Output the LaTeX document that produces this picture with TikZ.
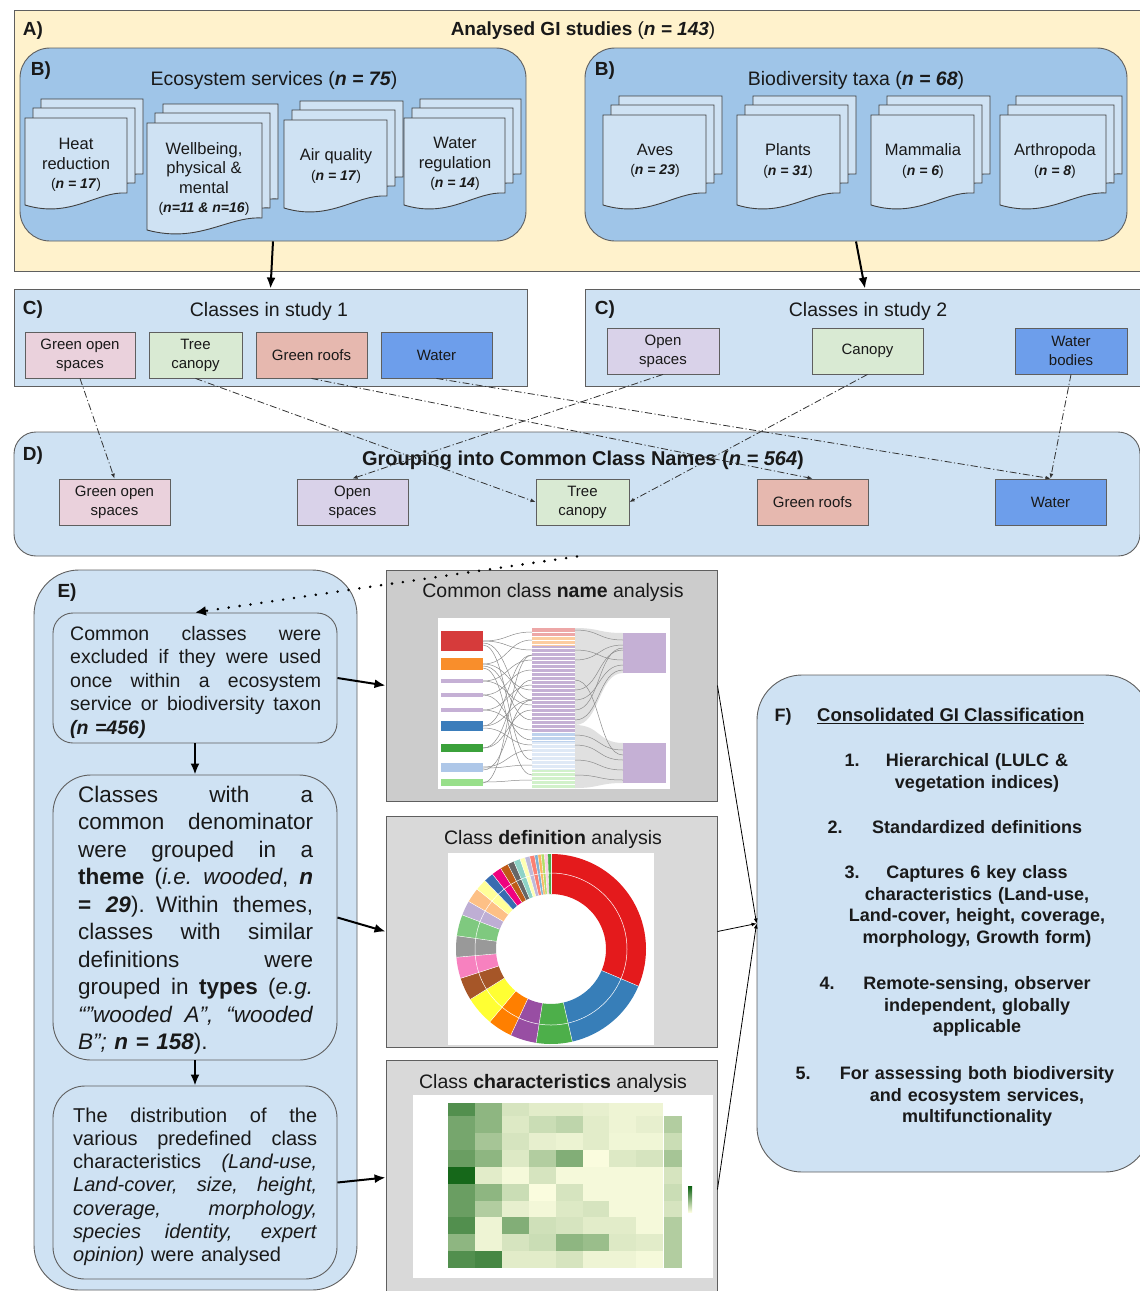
\documentclass[tikz,border=0pt]{standalone}
\usepackage{fontspec}
\setmainfont{Liberation Sans}
\usepackage{tikz}
\usetikzlibrary{arrows.meta,calc,positioning}

\definecolor{giyellow}{HTML}{FFF2CC}
\definecolor{giblue}{HTML}{9FC5E8}
\definecolor{gilight}{HTML}{CFE2F3}
\definecolor{gipink}{HTML}{EAD1DC}
\definecolor{gitree}{HTML}{D9EAD3}
\definecolor{giroof}{HTML}{E6B8AF}
\definecolor{giwater}{HTML}{6D9EEB}
\definecolor{giopen}{HTML}{D9D2E9}
\definecolor{gigreyA}{HTML}{CCCCCC}
\definecolor{gigreyB}{HTML}{D9D9D9}
\definecolor{giedge}{HTML}{5F5F5F}
\definecolor{hmhigh}{RGB}{10,96,16}
\definecolor{hmlow}{RGB}{250,252,222}
% sankey colours
\definecolor{skred}{HTML}{D63B3B}
\definecolor{skorange}{HTML}{F98E2B}
\definecolor{skpurple}{HTML}{C5B0D5}
\definecolor{skblue}{HTML}{3B7DBB}
\definecolor{skgreen}{HTML}{3BA13B}
\definecolor{sklblue}{HTML}{AEC7E8}
\definecolor{sklgreen}{HTML}{98DF8A}

\newcommand{\gifont}[2]{\fontsize{#1}{#2}\selectfont}
\newcommand{\nval}[1]{(\textbf{\textit{n = #1}})}
\newcommand{\jwid}{250pt}
% one justified line of fixed width \jwid
\newcommand{\jline}[1]{\hbox to \jwid{\spaceskip=0.3em plus 1fil\relax#1}\par}
% one sheet with a wavy lower edge: x, y (top left), width, height
\newcommand{\gisheet}[4]{%
  \filldraw[docsheet] ({#1},{#2}) -- ({#1+#3},{#2}) -- ({#1+#3},{#2+#4-12})
    .. controls ({#1+0.7*#3},{#2+#4-14}) and ({#1+0.45*#3},{#2+#4+14}) .. ({#1},{#2+#4}) -- cycle;}
% three stacked sheets
\newcommand{\gistack}[4]{%
  \gisheet{#1+16}{#2-19}{#3}{#4}%
  \gisheet{#1+8}{#2-10}{#3}{#4}%
  \gisheet{#1}{#2}{#3}{#4}}

\begin{document}
\begin{tikzpicture}
[
	x = 1pt, y = -1pt,	% one unit per pixel, y runs downwards
	every node/.style = {inner sep=0pt, text=black!90},
	seclabel/.style = {font=\gifont{19}{23}\bfseries},
	sectitle/.style = {font=\gifont{19.5}{23}},
	gibox/.style = {draw=giedge, line width=0.9pt},
	docsheet/.style = {draw=black!75, line width=0.9pt, fill=gilight},
	doctext/.style = {font=\gifont{16.5}{19.5}, align=center},
	classbox/.style = {gibox, font=\gifont{15}{19}, align=center, minimum height=46pt},
	etext/.style = {anchor=base west, font=\gifont{19.5}{23.5}},
	fitem/.style = {anchor=base, align=center, text width=300pt, font=\gifont{18}{21.5}\bfseries},
	fnum/.style = {anchor=base, font=\gifont{18}{21.5}\bfseries},
	bigarrow/.style = {line width=2pt, -{Latex[length=11pt,width=9pt]}},
	dashlink/.style = {draw=black!80, line width=0.8pt, dash pattern=on 7pt off 2.5pt on 1.2pt off 2.5pt, -{Latex[length=5pt,width=4pt]}},
	dotlink/.style = {line width=2.8pt, line cap=round, dash pattern=on 0pt off 11pt, -{Latex[length=11pt,width=10pt]}},
	thinlink/.style = {line width=0.8pt, -{Latex[length=5pt,width=4pt]}},
]

\useasboundingbox (0,0) rectangle (1140,1291);
\clip (0,0) rectangle (1140,1291);

% A) analysed studies
\node[gibox, fill=giyellow, minimum width=1131pt, minimum height=261pt] (astudies) at (579.5,140.5) {};
\node[seclabel] (alab) at (33,31) {A)};
\node[font=\gifont{19}{23}] (atitle) at (583,31) {\textbf{Analysed GI studies} (\textbf{\textit{n = 143}})};

% B) ecosystem services and biodiversity taxa
\node[gibox, fill=giblue, rounded corners=30pt, minimum width=506pt, minimum height=193pt] (bes) at (273,144.5) {};
\node[gibox, fill=giblue, rounded corners=30pt, minimum width=542pt, minimum height=193pt] (bbio) at (856,144.5) {};
\node[seclabel] (blabes) at (41,71) {B)};
\node[seclabel] (blabbio) at (605,71) {B)};
\node[sectitle] (bestitle) at (274,80) {Ecosystem services \nval{75}};
\node[sectitle] (bbiotitle) at (856,80) {Biodiversity taxa \nval{68}};

\gistack{25}{118}{102}{87}
\gistack{147}{123}{115}{107}
\gistack{284}{120}{103}{88}
\gistack{404}{118}{101}{87}
\gistack{603}{115}{103}{90}
\gistack{737}{115}{103}{90}
\gistack{871}{115}{103}{90}
\gistack{1000}{115}{106}{90}

\node[doctext] (dheat) at (76,165) {Heat\\reduction\\{\gifont{14}{17}\nval{17}}};
\node[doctext] (dwell) at (204,179) {Wellbeing,\\physical \&\\mental\\{\gifont{14}{17}(\textbf{\textit{n=11 \& n=16}})}};
\node[doctext] (dair) at (336,166) {Air quality\\{\gifont{14}{17}\nval{17}}};
\node[doctext] (dwreg) at (455,164) {Water\\regulation\\{\gifont{14}{17}\nval{14}}};
\node[doctext] (daves) at (655,161) {Aves\\{\gifont{14}{17}\nval{23}}};
\node[doctext] (dplants) at (788,161) {Plants\\{\gifont{14}{17}\nval{31}}};
\node[doctext] (dmamm) at (923,161) {Mammalia\\{\gifont{14}{17}\nval{6}}};
\node[doctext] (darth) at (1055,161) {Arthropoda\\{\gifont{14}{17}\nval{8}}};

% C) classes in the two studies
\node[gibox, fill=gilight, minimum width=513pt, minimum height=97pt] (cone) at (270.5,337.5) {};
\node[gibox, fill=gilight, minimum width=560pt, minimum height=97pt] (ctwo) at (865,337.5) {};
\node[seclabel] (clabone) at (33,310) {C)};
\node[seclabel] (clabtwo) at (605,310) {C)};
\node[sectitle] (conetitle) at (269,311) {Classes in study 1};
\node[sectitle] (ctwotitle) at (868,311) {Classes in study 2};

\node[classbox, fill=gipink, minimum width=110pt] (c1open) at (80,355) {Green open\\spaces};
\node[classbox, fill=gitree, minimum width=93pt] (c1tree) at (195.5,355) {Tree\\canopy};
\node[classbox, fill=giroof, minimum width=111pt] (c1roof) at (311.5,355) {Green roofs};
\node[classbox, fill=giwater, minimum width=111pt] (c1water) at (436.5,355) {Water};
\node[classbox, fill=giopen, minimum width=112pt] (c2open) at (663,351) {Open\\spaces};
\node[classbox, fill=gitree, minimum width=111pt] (c2canopy) at (867.5,351) {Canopy};
\node[classbox, fill=giwater, minimum width=112pt] (c2water) at (1071,351) {Water\\bodies};

% D) common class names
\node[gibox, fill=gilight, rounded corners=22pt, minimum width=1126pt, minimum height=124pt] (dall) at (577,494) {};
\node[seclabel] (dlab) at (33,456) {D)};
\node[font=\gifont{20}{24}\bfseries] (dtitle) at (583,460) {Grouping into Common Class Names (\textit{n = 564})};

\node[classbox, fill=gipink, minimum width=111pt] (dgreen) at (114.5,502) {Green open\\spaces};
\node[classbox, fill=giopen, minimum width=111pt] (dopen) at (352.5,502) {Open\\spaces};
\node[classbox, fill=gitree, minimum width=93pt] (dtree) at (582.5,502) {Tree\\canopy};
\node[classbox, fill=giroof, minimum width=111pt] (droof) at (812.5,502) {Green roofs};
\node[classbox, fill=giwater, minimum width=111pt] (dwater) at (1050.5,502) {Water};

\draw[dashlink] (c1open.south) -- (dgreen.north);
\draw[dashlink] (c1tree.south) -- (dtree.west);
\draw[dashlink] (c1roof.south) -- (droof.north);
\draw[dashlink] (c1water.south) -- (dwater.north);
\draw[dashlink] (c2open.south) -- (dopen.north);
\draw[dashlink] (c2canopy.south) -- (dtree.east);
\draw[dashlink] (c2water.south) -- (dwater.north);

% E) filtering steps
\node[gibox, fill=gilight, rounded corners=45pt, minimum width=323pt, minimum height=720pt] (eall) at (195.5,930) {};
\node[seclabel] (elab) at (67,593) {E)};
\node[gibox, fill=gilight, rounded corners=20pt, minimum width=284pt, minimum height=130pt] (eone) at (195,678) {};
\node[gibox, fill=gilight, rounded corners=38pt, minimum width=284pt, minimum height=285pt] (etwo) at (195,917.5) {};
\node[gibox, fill=gilight, rounded corners=32pt, minimum width=284pt, minimum height=193pt] (ethree) at (195,1182.5) {};

\node[etext, text width=251pt] (eonetext) at (70,640) {%
  \renewcommand{\jwid}{251pt}%
  \jline{Common classes were}%
  \jline{excluded if they were used}%
  \jline{once within a ecosystem}%
  \jline{service or biodiversity taxon}%
  \hbox{\textbf{\textit{(n =456)}}}};
\node[etext, font=\gifont{22.5}{27.5}, text width=235pt] (etwotext) at (78,802) {%
  \renewcommand{\jwid}{235pt}%
  \jline{Classes with a}%
  \jline{common denominator}%
  \jline{were grouped in a}%
  \jline{\textbf{theme} (\textit{i.e. wooded}, \textbf{\textit{n}}}%
  \jline{\textbf{=} \textbf{\textit{29}}). Within themes,}%
  \jline{classes with similar}%
  \jline{definitions were}%
  \jline{grouped in \textbf{types} (\textit{e.g.}}%
  \jline{\textit{“”wooded A”, “wooded}}%
  \hbox{\textit{B”;} \textbf{\textit{n = 158}}).}};
\node[etext, font=\gifont{20}{23.3}, text width=244pt] (ethreetext) at (73,1122) {%
  \renewcommand{\jwid}{244pt}%
  \jline{The distribution of the}%
  \jline{various predefined class}%
  \jline{characteristics \textit{(Land-use,}}%
  \jline{\textit{Land-cover, size, height,}}%
  \jline{\textit{coverage, morphology,}}%
  \jline{\textit{species identity, expert}}%
  \hbox{\textit{opinion)} were analysed}};

% analysis panels
\node[gibox, fill=gigreyA, minimum width=331pt, minimum height=231pt] (pone) at (551.5,685.5) {};
\node[gibox, fill=gigreyB, minimum width=331pt, minimum height=231pt] (ptwo) at (551.5,931.5) {};
\node[gibox, fill=gigreyB, minimum width=331pt, minimum height=235pt] (pthree) at (551.5,1177.5) {};
\node[sectitle] (ponetitle) at (553,592) {Common class \textbf{name} analysis};
\node[sectitle] (ptwotitle) at (553,839) {Class \textbf{definition} analysis};
\node[sectitle] (pthreetitle) at (553,1083) {Class \textbf{characteristics} analysis};

% sankey sketch
\fill[white] (438,618) rectangle (670,789);
\foreach \ya/\yb/\col in {631/651/skred, 658/670/skorange, 679/683/skpurple, 693/697/skpurple, 708/712/skpurple, 721/731/skblue, 744/752/skgreen, 763/772/sklblue, 779/786/sklgreen}
  \fill[\col] (441,\ya) rectangle (483,\yb);
\fill[skred!45] (532,628) rectangle (575,637);
\fill[skorange!45] (532,637) rectangle (575,646);
\fill[skpurple] (532,646) rectangle (575,733);
\fill[sklblue!80] (532,733) rectangle (575,742);
\fill[sklblue!40] (532,742) rectangle (575,770);
\fill[sklgreen!45] (532,770) rectangle (575,788);
\foreach \y in {632,636,...,786}
  \draw[white, line width=0.5pt] (532,\y) -- (575,\y);
\fill[black!12] (575,628) .. controls (600,628) and (598,633) .. (623,633) -- (623,673) .. controls (598,673) and (600,725) .. (575,725) -- cycle;
\fill[black!12] (575,725) .. controls (600,725) and (598,743) .. (623,743) -- (623,783) .. controls (598,783) and (600,788) .. (575,788) -- cycle;
\fill[skpurple] (623,633) rectangle (666,673);
\fill[skpurple] (623,743) rectangle (666,783);
\foreach \a/\b in {641/632, 641/650, 643/700, 645/760, 664/640, 664/690, 666/720, 668/775, 681/660, 681/705, 695/670, 695/740, 710/685, 710/730, 726/655, 726/700, 728/745, 748/710, 748/680, 767/750, 768/765, 770/700, 782/780, 783/655}
  \draw[black!45, line width=0.5pt] (483,\a) .. controls (508,\a) and (508,\b) .. (532,\b);
\foreach \b/\c in {630/640, 650/660, 660/645, 690/650, 700/665, 720/670, 735/750, 745/760, 760/770, 775/780, 680/755, 710/648}
  \draw[black!45, line width=0.5pt] (575,\b) .. controls (600,\b) and (598,\c) .. (623,\c);

% donut sketch
\fill[white] (448,853) rectangle (654,1045);
\begin{scope}[shift={(551,949)}]
\foreach \sa/\sb/\col in {0/113/E41A1C, 113/167/377EB8, 167/189/4DAF4A, 189/205/984EA3, 205/220/FF7F00, 220/238/FFFF33, 238/252/A65628, 252/265/F781BF, 265/278/999999, 278/291/7FC97F, 291/300/BEAED4, 300/309/FDC086, 309/316/FFFF99, 316/322/386CB0, 322/328/F0027F, 328/333/BF5B17, 333/337/666666, 337/341/8DD3C7, 341/344/FFFFB3, 344/347/BEBADA, 347/350/FB8072, 350/352/80B1D3, 352/354/FDB462, 354/356/B3DE69, 356/358/FCCDE5, 358/360/4DAF4A}
{
  \definecolor{dn}{HTML}{\col}
  \pgfmathsetmacro\aa{90-\sa}
  \pgfmathsetmacro\ab{90-\sb}
  \fill[dn] (\aa:95pt) arc[start angle=\aa, end angle=\ab, radius=95pt] -- (\ab:55pt) arc[start angle=\ab, end angle=\aa, radius=55pt] -- cycle;
  \draw[white, line width=0.4pt] (\aa:55pt) -- (\aa:95pt);
}
\draw[white, line width=0.5pt] (0,0) circle[radius=76pt];
\end{scope}

% heat map sketch
\fill[white] (413,1095) rectangle (713,1278);
\foreach \v [count=\c from 0] in {70,45,15,10,10,8,5,5}
  \fill[hmhigh!\v!hmlow] ({448+26.9*\c},1103) rectangle ++(26.9,13);
\foreach \vals [count=\r from 0] in {{55,45,12,20,25,10,5,8}, {55,35,15,8,6,10,4,4}, {60,45,12,30,50,0,12,15}, {95,10,2,15,2,2,2,2}, {60,45,20,0,15,2,2,2}, {60,30,8,3,12,15,2,2}, {70,5,50,18,15,10,10,2}, {45,5,15,20,45,40,12,10}, {70,75,10,10,15,5,5,2}}
  \foreach \v [count=\c from 0] in \vals
    \fill[hmhigh!\v!hmlow] ({448+26.9*\c},{1116+16.9*\r}) rectangle ++(26.9,16.9);
\foreach \v [count=\r from 0] in {30,20,35,15,20,15,30,30,30}
  \fill[hmhigh!\v!hmlow] (664,{1116+16.9*\r}) rectangle ++(18,16.9);
\shade[top color=hmhigh, bottom color=hmlow] (688,1186) rectangle (692,1212);

% F) consolidated classification
\node[gibox, fill=gilight, rounded corners=45pt, minimum width=393pt, minimum height=497pt] (fall) at (953.5,923.5) {};
\node[fnum] (flab) at (783,721.5) {F)};
\node[anchor=base west, font=\gifont{18.5}{22}\bfseries] (ftitle) at (817,721.5) {\underline{Consolidated GI Classification}};
\node[fnum] (fnumone) at (852,766.5) {1.};
\node[fitem] (fone) at (977,766.5) {Hierarchical (LULC \&\\vegetation indices)};
\node[fnum] (fnumtwo) at (835,833.5) {2.};
\node[fitem] (ftwo) at (977,833.5) {Standardized definitions};
\node[fnum] (fnumthree) at (852,878.5) {3.};
\node[fitem] (fthree) at (977,878.5) {Captures 6 key class\\characteristics (Land-use,\\Land-cover, height, coverage,\\morphology, Growth form)};
\node[fnum] (fnumfour) at (827,989.5) {4.};
\node[fitem] (ffour) at (977,989.5) {Remote-sensing, observer\\independent, globally\\applicable};
\node[fnum] (fnumfive) at (803,1079.5) {5.};
\node[fitem] (ffive) at (977,1079.5) {For assessing both biodiversity\\and ecosystem services,\\multifunctionality};

% connectors
\draw[bigarrow] (bes.south) -- (cone.north);
\draw[bigarrow] (bbio.south) -- (ctwo.north);
\draw[dotlink] (dall.south) -- (eone.north);
\draw[bigarrow] (eone.south) -- (etwo.north);
\draw[bigarrow] (etwo.south) -- (ethree.north);
\draw[bigarrow] (eone.east) -- (pone.west);
\draw[bigarrow] (etwo.east) -- (ptwo.west);
\draw[bigarrow] (ethree.east) -- (pthree.west);
\draw[thinlink] (pone.east) -- (fall.west);
\draw[thinlink] (ptwo.east) -- (fall.west);
\draw[thinlink] ([yshift=-12pt]pthree.east) -- (fall.west);

\end{tikzpicture}
\end{document}
